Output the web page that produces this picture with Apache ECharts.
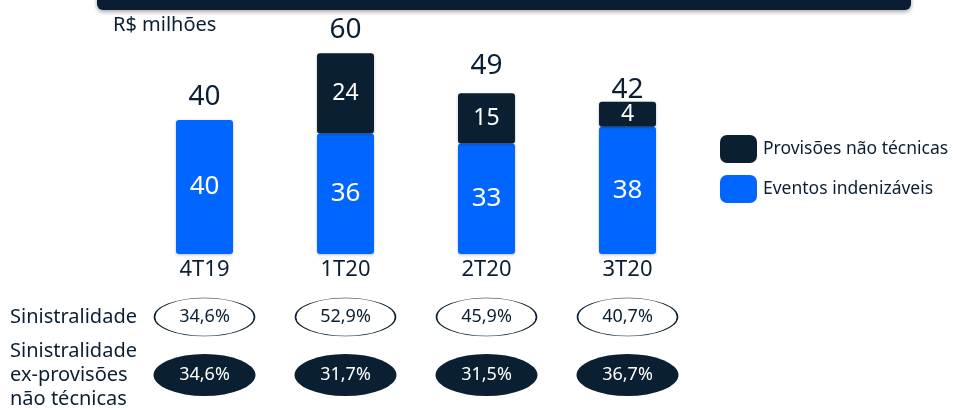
<!DOCTYPE html>
<html>
<head>
<meta charset="utf-8">
<script src="https://cdn.jsdelivr.net/npm/echarts@6/dist/echarts.min.js"></script>
<style>
  html, body { margin: 0; padding: 0; background: #fff; }
  #chart { width: 953px; height: 410px; }
</style>
</head>
<body>
<div id="chart"></div>
<script>
'use strict';

var quarters = ['4T19', '1T20', '2T20', '3T20'];
var eventos = [40, 36, 33, 38];
var provisoes = ['-', 24, 15, 4];
var totals = [40, 60, 49, 42];
var sinistralidade = [34.6, 52.9, 45.9, 40.7];
var exProvisoes = [34.6, 31.7, 31.5, 36.7];
var rowLabels = ['Sinistralidade', 'Sinistralidade\nex-provisões\nnão técnicas'];

var DARK = '#0b1f33';
var BLUE = '#0066ff';
var FONT = '"Noto Sans", sans-serif';

function pct(v) {
  return v.toFixed(1).replace('.', ',') + '%';
}

function rowData(values, row) {
  return values.map(function(v, i) { return [i, row, v]; });
}

var chart = echarts.init(document.getElementById('chart'));

chart.setOption({
  animation: false,
  textStyle: { fontFamily: FONT },
  title: {
    text: 'R$ milhões',
    left: 108, top: 10,
    textStyle: { fontSize: 20, fontWeight: 'normal', color: DARK, fontFamily: FONT }
  },
  graphic: [{
    type: 'rect',
    shape: { x: 97, y: -12, width: 814, height: 22, r: 6 },
    style: { fill: '#0a1e33', shadowBlur: 4, shadowOffsetY: 2, shadowColor: 'rgba(0,0,0,0.35)' }
  }],
  legend: {
    data: ['Provisões não técnicas', 'Eventos indenizáveis'],
    orient: 'vertical',
    left: 715, top: 130,
    itemWidth: 37, itemHeight: 28, itemGap: 12,
    icon: 'roundRect',
    textStyle: { fontSize: 17.5, color: DARK, fontFamily: FONT, padding: [0, 0, 0, 1] }
  },
  grid: [
    { left: 134, width: 564, top: 23, bottom: 156 },
    { left: 134, width: 564, top: 288, height: 120 }
  ],
  xAxis: [{
    type: 'category', gridIndex: 0, data: quarters,
    axisLine: { show: false }, axisTick: { show: false },
    axisLabel: { fontSize: 22, color: DARK, margin: 5, fontFamily: FONT }
  }, {
    type: 'category', gridIndex: 1, data: quarters, show: false
  }],
  yAxis: [{
    type: 'value', gridIndex: 0, min: 0, max: 69, show: false
  }, {
    type: 'category', gridIndex: 1, data: rowLabels, inverse: true,
    axisLine: { show: false }, axisTick: { show: false }, splitLine: { show: false },
    axisLabel: {
      align: 'left', margin: 124, fontSize: 20, lineHeight: 24,
      color: DARK, fontFamily: FONT
    }
  }],
  series: [{
    name: 'Eventos indenizáveis', type: 'bar', stack: 'total',
    xAxisIndex: 0, yAxisIndex: 0,
    barWidth: 57,
    data: eventos,
    itemStyle: { color: BLUE, borderRadius: 3, shadowBlur: 3, shadowOffsetY: 1, shadowColor: 'rgba(0,0,0,0.25)' },
    label: { show: true, position: 'inside', color: '#fff', fontSize: 26, fontFamily: FONT }
  }, {
    name: 'Provisões não técnicas', type: 'bar', stack: 'total',
    xAxisIndex: 0, yAxisIndex: 0,
    barWidth: 57, barMinHeight: 25,
    data: provisoes,
    itemStyle: { color: DARK, borderRadius: 3, shadowBlur: 3, shadowOffsetY: 1, shadowColor: 'rgba(0,0,0,0.25)' },
    label: { show: true, position: 'inside', color: '#fff', fontSize: 23, fontFamily: FONT }
  }, {
    name: 'Total', type: 'scatter',
    xAxisIndex: 0, yAxisIndex: 0,
    data: totals, symbolSize: 1,
    itemStyle: { color: 'transparent', opacity: 1 },
    label: { show: true, position: 'top', distance: 9, color: DARK, fontSize: 28, fontFamily: FONT }
  }, {
    name: 'Sinistralidade', type: 'scatter',
    xAxisIndex: 1, yAxisIndex: 1,
    data: rowData(sinistralidade, rowLabels[0]),
    symbol: 'circle', symbolSize: [100, 38],
    itemStyle: { color: '#fff', borderColor: DARK, borderWidth: 1, opacity: 1 },
    label: {
      show: true, position: 'inside', color: DARK, fontSize: 18, fontFamily: FONT,
      formatter: function(p) { return pct(p.data[2]); }
    }
  }, {
    name: 'Ex-provisões', type: 'scatter',
    xAxisIndex: 1, yAxisIndex: 1,
    data: rowData(exProvisoes, rowLabels[1]),
    symbol: 'circle', symbolSize: [102, 42],
    itemStyle: { color: DARK, opacity: 1 },
    label: {
      show: true, position: 'inside', color: '#fff', fontSize: 18, fontFamily: FONT,
      formatter: function(p) { return pct(p.data[2]); }
    }
  }]
});
</script>
</body>
</html>
